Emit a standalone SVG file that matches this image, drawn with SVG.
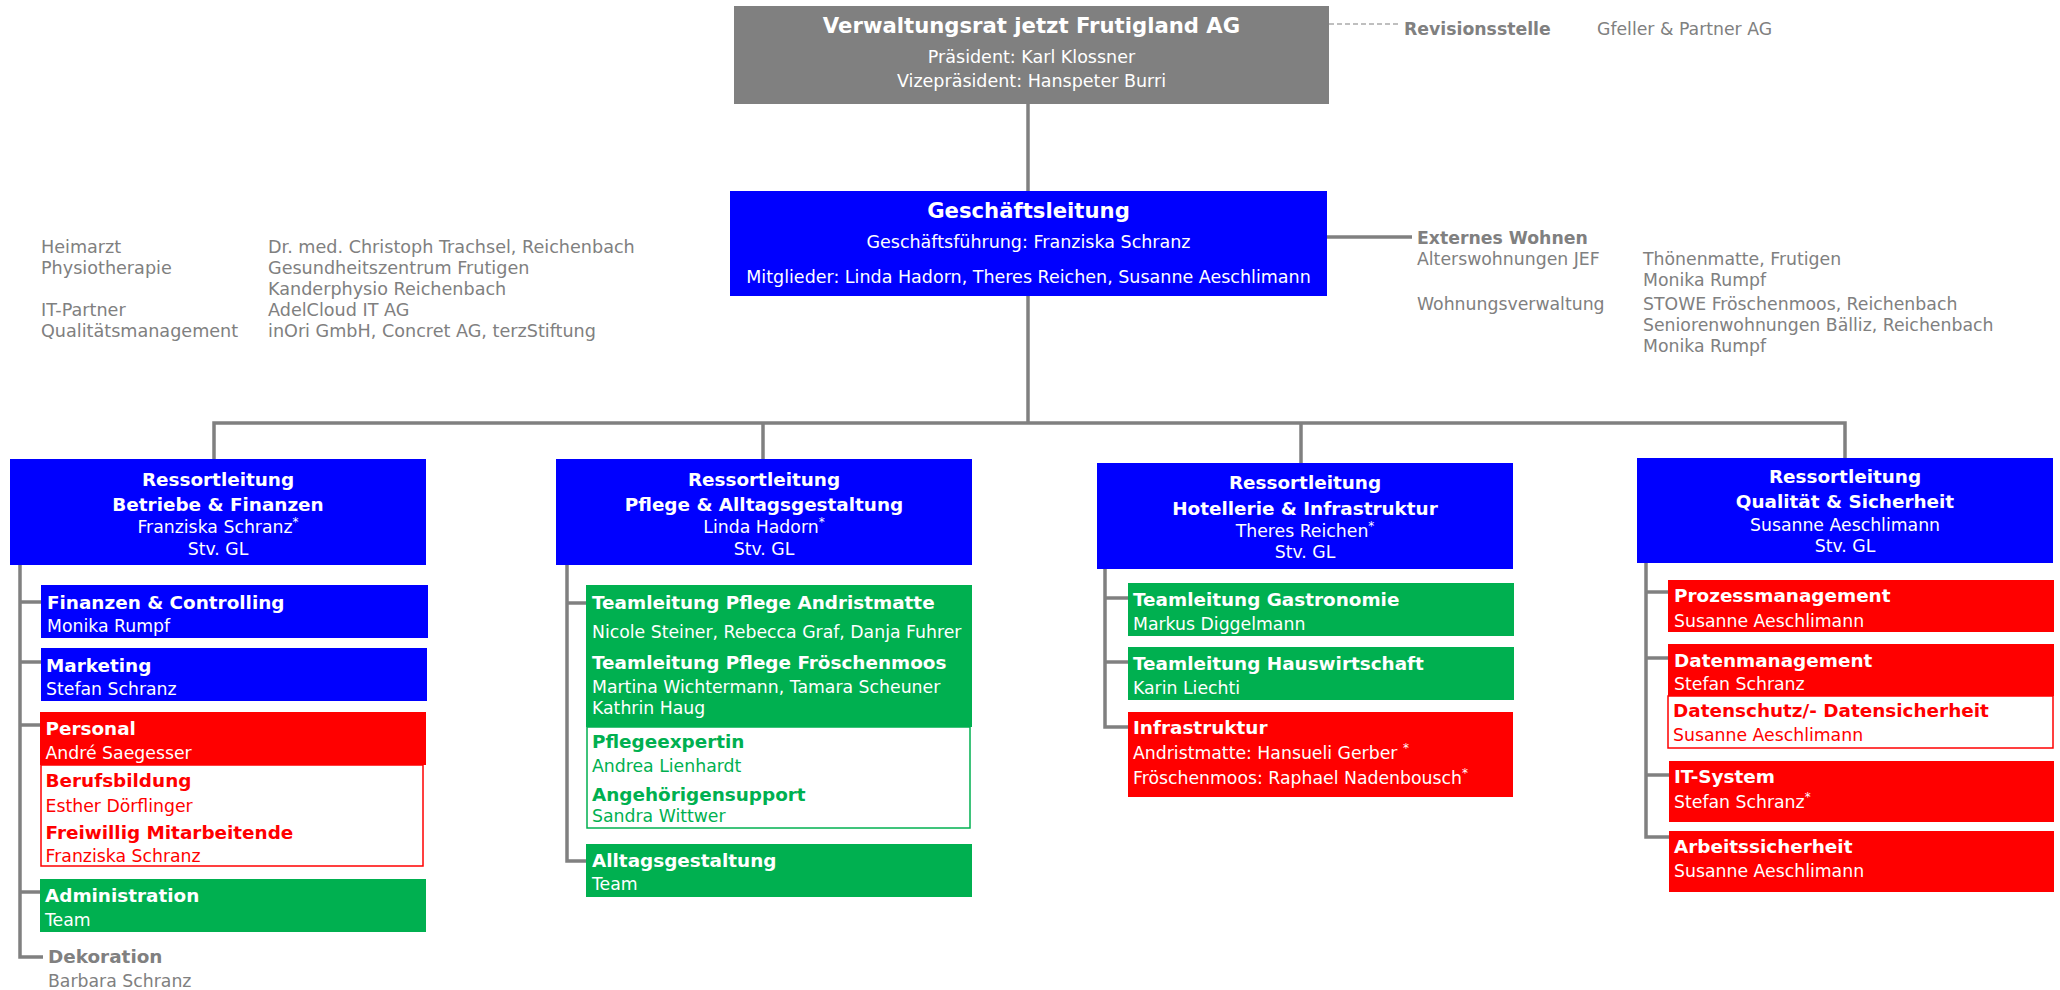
<svg xmlns="http://www.w3.org/2000/svg" width="2060" height="990" viewBox="0 0 2060 990">
<style>
text{font-family:"DejaVu Sans",Verdana,sans-serif}
.h{font-weight:bold;font-size:21.2px}
.b{font-weight:bold;font-size:18.4px}
.bs{font-weight:bold;font-size:17.3px}
.r{font-size:17.3px}
.rl{font-size:17.6px}
.rt{font-size:17.5px}
.c{text-anchor:middle}
.w{fill:#ffffff}
.gy{fill:#808080}
.rd{fill:#ff0000}
.gn{fill:#00b050}
.sup{font-size:12px}
.blue{fill:#0000ff}
.green{fill:#00b050}
.red{fill:#ff0000}
.grey{fill:#808080}
.ored{fill:#ffffff;stroke:#ff0000;stroke-width:1.5}
.ogreen{fill:#ffffff;stroke:#00b050;stroke-width:1.5}
.ln{stroke:#808080;stroke-width:3.5;fill:none}
.dash{stroke:#808080;stroke-width:1.2;stroke-dasharray:5 3;fill:none}
</style>

<g id="connectors">
  <line class="dash" x1="1329" y1="24" x2="1398" y2="24"/>
  <line class="ln" x1="1028" y1="104" x2="1028" y2="191"/>
  <line class="ln" x1="1327" y1="237" x2="1412" y2="237"/>
  <polyline class="ln" points="1028,296 1028,423"/>
  <polyline class="ln" points="214,459 214,423 1845,423 1845,458"/>
  <line class="ln" x1="763" y1="423" x2="763" y2="459"/>
  <line class="ln" x1="1301" y1="423" x2="1301" y2="463"/>
  <polyline class="ln" points="20,565 20,957 43,957"/>
  <line class="ln" x1="20" y1="602" x2="41" y2="602"/>
  <line class="ln" x1="20" y1="662" x2="41" y2="662"/>
  <line class="ln" x1="20" y1="725" x2="41" y2="725"/>
  <line class="ln" x1="20" y1="892" x2="41" y2="892"/>
  <polyline class="ln" points="567,565 567,861 586,861"/>
  <line class="ln" x1="567" y1="603" x2="586" y2="603"/>
  <polyline class="ln" points="1105,569 1105,727 1128,727"/>
  <line class="ln" x1="1105" y1="598" x2="1128" y2="598"/>
  <line class="ln" x1="1105" y1="662" x2="1128" y2="662"/>
  <polyline class="ln" points="1646,563 1646,837 1669,837"/>
  <line class="ln" x1="1646" y1="592" x2="1668" y2="592"/>
  <line class="ln" x1="1646" y1="658" x2="1668" y2="658"/>
  <line class="ln" x1="1646" y1="775" x2="1669" y2="775"/>
</g>

<g id="verwaltungsrat">
  <rect class="grey" x="734" y="6" width="595" height="98"/>
  <text class="h c w" x="1031.5" y="33">Verwaltungsrat jetzt Frutigland AG</text>
  <text class="rt c w" x="1031.5" y="63">Präsident: Karl Klossner</text>
  <text class="rt c w" x="1031.5" y="87">Vizepräsident: Hanspeter Burri</text>
</g>

<g id="revisionsstelle">
  <text class="bs gy" x="1404" y="35">Revisionsstelle</text>
  <text class="r gy" x="1597" y="35">Gfeller &amp; Partner AG</text>
</g>

<g id="geschaeftsleitung">
  <rect class="blue" x="730" y="191" width="597" height="105"/>
  <text class="h c w" x="1028.5" y="218">Geschäftsleitung</text>
  <text class="rt c w" x="1028.5" y="248">Geschäftsführung: Franziska Schranz</text>
  <text class="rt c w" x="1028.5" y="283">Mitglieder: Linda Hadorn, Theres Reichen, Susanne Aeschlimann</text>
</g>

<g id="externe-partner">
  <text class="rl gy" x="41" y="253">Heimarzt</text>
  <text class="rl gy" x="268" y="253">Dr. med. Christoph Trachsel, Reichenbach</text>
  <text class="rl gy" x="41" y="274">Physiotherapie</text>
  <text class="rl gy" x="268" y="274">Gesundheitszentrum Frutigen</text>
  <text class="rl gy" x="268" y="294.5">Kanderphysio Reichenbach</text>
  <text class="rl gy" x="41" y="315.5">IT-Partner</text>
  <text class="rl gy" x="268" y="315.5">AdelCloud IT AG</text>
  <text class="rl gy" x="41" y="336.5">Qualitätsmanagement</text>
  <text class="rl gy" x="268" y="336.5">inOri GmbH, Concret AG, terzStiftung</text>
</g>

<g id="externes-wohnen">
  <text class="bs gy" x="1417" y="244">Externes Wohnen</text>
  <text class="r gy" x="1417" y="264.5">Alterswohnungen JEF</text>
  <text class="r gy" x="1643" y="264.5">Thönenmatte, Frutigen</text>
  <text class="r gy" x="1643" y="286">Monika Rumpf</text>
  <text class="r gy" x="1417" y="310">Wohnungsverwaltung</text>
  <text class="r gy" x="1643" y="310">STOWE Fröschenmoos, Reichenbach</text>
  <text class="r gy" x="1643" y="331">Seniorenwohnungen Bälliz, Reichenbach</text>
  <text class="r gy" x="1643" y="352">Monika Rumpf</text>
</g>

<g id="ressort-betriebe">
  <rect class="blue" x="10" y="459" width="416" height="106"/>
  <text class="b c w" x="218" y="486">Ressortleitung</text>
  <text class="b c w" x="218" y="511">Betriebe &amp; Finanzen</text>
  <text class="r c w" x="218" y="533">Franziska Schranz<tspan class="sup" dy="-7">*</tspan></text>
  <text class="r c w" x="218" y="555">Stv. GL</text>
</g>
<g id="finanzen">
  <rect class="blue" x="41" y="585" width="387" height="53"/>
  <text class="b w" x="47" y="609">Finanzen &amp; Controlling</text>
  <text class="r w" x="47" y="632">Monika Rumpf</text>
</g>
<g id="marketing">
  <rect class="blue" x="41" y="648" width="386" height="53"/>
  <text class="b w" x="46" y="672">Marketing</text>
  <text class="r w" x="46" y="695">Stefan Schranz</text>
</g>
<g id="personal">
  <rect class="red" x="40" y="712" width="386" height="53"/>
  <text class="b w" x="45.5" y="735">Personal</text>
  <text class="r w" x="45.5" y="759">André Saegesser</text>
</g>
<g id="berufsbildung">
  <rect class="ored" x="41" y="765" width="382" height="101"/>
  <text class="b rd" x="45.5" y="787">Berufsbildung</text>
  <text class="r rd" x="45.5" y="812">Esther Dörflinger</text>
  <text class="b rd" x="45.5" y="839">Freiwillig Mitarbeitende</text>
  <text class="r rd" x="45.5" y="862">Franziska Schranz</text>
</g>
<g id="administration">
  <rect class="green" x="40" y="879" width="386" height="53"/>
  <text class="b w" x="45" y="902">Administration</text>
  <text class="r w" x="45" y="926">Team</text>
</g>
<g id="dekoration">
  <text class="b gy" x="48" y="963">Dekoration</text>
  <text class="r gy" x="48" y="987">Barbara Schranz</text>
</g>

<g id="ressort-pflege">
  <rect class="blue" x="556" y="459" width="416" height="106"/>
  <text class="b c w" x="764" y="486">Ressortleitung</text>
  <text class="b c w" x="764" y="511">Pflege &amp; Alltagsgestaltung</text>
  <text class="r c w" x="764" y="533">Linda Hadorn<tspan class="sup" dy="-7">*</tspan></text>
  <text class="r c w" x="764" y="555">Stv. GL</text>
</g>
<g id="teamleitung-pflege">
  <rect class="green" x="586" y="585" width="386" height="142"/>
  <text class="b w" x="592" y="609">Teamleitung Pflege Andristmatte</text>
  <text class="r w" x="592" y="638">Nicole Steiner, Rebecca Graf, Danja Fuhrer</text>
  <text class="b w" x="592" y="669">Teamleitung Pflege Fröschenmoos</text>
  <text class="r w" x="592" y="693">Martina Wichtermann, Tamara Scheuner</text>
  <text class="r w" x="592" y="714">Kathrin Haug</text>
</g>
<g id="pflegeexpertin">
  <rect class="ogreen" x="587" y="727" width="383" height="101"/>
  <text class="b gn" x="592" y="748">Pflegeexpertin</text>
  <text class="r gn" x="592" y="772">Andrea Lienhardt</text>
  <text class="b gn" x="592" y="801">Angehörigensupport</text>
  <text class="r gn" x="592" y="822">Sandra Wittwer</text>
</g>
<g id="alltagsgestaltung">
  <rect class="green" x="586" y="844" width="386" height="53"/>
  <text class="b w" x="592" y="867">Alltagsgestaltung</text>
  <text class="r w" x="592" y="890">Team</text>
</g>

<g id="ressort-hotellerie">
  <rect class="blue" x="1097" y="463" width="416" height="106"/>
  <text class="b c w" x="1305" y="489">Ressortleitung</text>
  <text class="b c w" x="1305" y="515">Hotellerie &amp; Infrastruktur</text>
  <text class="r c w" x="1305" y="537">Theres Reichen<tspan class="sup" dy="-7">*</tspan></text>
  <text class="r c w" x="1305" y="558">Stv. GL</text>
</g>
<g id="gastronomie">
  <rect class="green" x="1128" y="583" width="386" height="53"/>
  <text class="b w" x="1133" y="606">Teamleitung Gastronomie</text>
  <text class="r w" x="1133" y="630">Markus Diggelmann</text>
</g>
<g id="hauswirtschaft">
  <rect class="green" x="1128" y="647" width="386" height="53"/>
  <text class="b w" x="1133" y="670">Teamleitung Hauswirtschaft</text>
  <text class="r w" x="1133" y="694">Karin Liechti</text>
</g>
<g id="infrastruktur">
  <rect class="red" x="1128" y="712" width="385" height="85"/>
  <text class="b w" x="1133" y="734">Infrastruktur</text>
  <text class="r w" x="1133" y="759">Andristmatte: Hansueli Gerber <tspan class="sup" dy="-7">*</tspan></text>
  <text class="r w" x="1133" y="784">Fröschenmoos: Raphael Nadenbousch<tspan class="sup" dy="-7">*</tspan></text>
</g>

<g id="ressort-qualitaet">
  <rect class="blue" x="1637" y="458" width="416" height="105"/>
  <text class="b c w" x="1845" y="483">Ressortleitung</text>
  <text class="b c w" x="1845" y="508">Qualität &amp; Sicherheit</text>
  <text class="r c w" x="1845" y="531">Susanne Aeschlimann</text>
  <text class="r c w" x="1845" y="552">Stv. GL</text>
</g>
<g id="prozessmanagement">
  <rect class="red" x="1668" y="580" width="386" height="52"/>
  <text class="b w" x="1674" y="602">Prozessmanagement</text>
  <text class="r w" x="1674" y="627">Susanne Aeschlimann</text>
</g>
<g id="datenmanagement">
  <rect class="red" x="1668" y="644" width="386" height="52"/>
  <text class="b w" x="1674" y="667">Datenmanagement</text>
  <text class="r w" x="1674" y="690">Stefan Schranz</text>
</g>
<g id="datenschutz">
  <rect class="ored" x="1668" y="696" width="385" height="52"/>
  <text class="b rd" x="1673" y="717">Datenschutz/- Datensicherheit</text>
  <text class="r rd" x="1673" y="741">Susanne Aeschlimann</text>
</g>
<g id="it-system">
  <rect class="red" x="1669" y="761" width="385" height="61"/>
  <text class="b w" x="1674" y="783">IT-System</text>
  <text class="r w" x="1674" y="808">Stefan Schranz<tspan class="sup" dy="-7">*</tspan></text>
</g>
<g id="arbeitssicherheit">
  <rect class="red" x="1669" y="831" width="385" height="61"/>
  <text class="b w" x="1674" y="853">Arbeitssicherheit</text>
  <text class="r w" x="1674" y="877">Susanne Aeschlimann</text>
</g>
</svg>
